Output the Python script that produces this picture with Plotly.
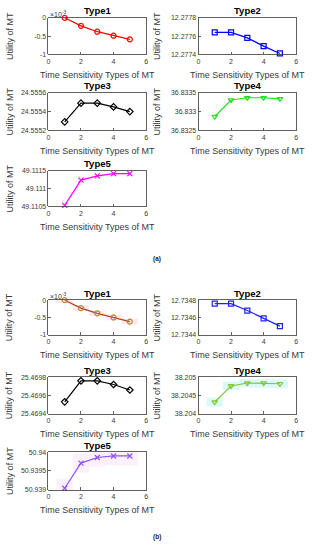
import plotly.graph_objects as go

W, H = 312, 550

# ---------------- data ----------------
x_types = [1, 2, 3, 4, 5]
x_ticks = [0, 2, 4, 6]

# panel (a)
a_type1 = [0.0, -0.22, -0.38, -0.49, -0.59]          # x 10^-3
a_type2 = [12.27764, 12.27764, 12.27758, 12.27749, 12.27741]
a_type3 = [24.55529, 24.55549, 24.55549, 24.55545, 24.55540]
a_type4 = [36.83287, 36.83331, 36.83337, 36.83337, 36.83334]
a_type5 = [49.11053, 49.11124, 49.11136, 49.11142, 49.11142]

# panel (b)
b_type1 = [0.0, -0.23, -0.38, -0.50, -0.62]          # x 10^-3
b_type2 = [12.73476, 12.73476, 12.73468, 12.73459, 12.73450]
b_type3 = [25.46953, 25.46976, 25.46976, 25.46972, 25.46966]
b_type4 = [38.20432, 38.20476, 38.20484, 38.20484, 38.20482]
b_type5 = [50.93904, 50.93971, 50.93986, 50.93990, 50.93990]

# shaded band half-widths (panel b)
b_band1 = 0.08
b_band4 = 0.00012
b_band5 = 0.00025

# y ticks
a_yt1 = [-1, -0.5, 0];                  a_yl1 = ["-1", "-0.5", "0"]
a_yt2 = [12.2774, 12.2776, 12.2778];    a_yl2 = ["12.2774", "12.2776", "12.2778"]
a_yt3 = [24.5552, 24.5554, 24.5556];    a_yl3 = ["24.5552", "24.5554", "24.5556"]
a_yt4 = [36.8325, 36.833, 36.8335];     a_yl4 = ["36.8325", "36.833", "36.8335"]
a_yt5 = [49.1105, 49.111, 49.1115];     a_yl5 = ["49.1105", "49.111", "49.1115"]
b_yt1 = [-1, -0.5, 0];                  b_yl1 = ["-1", "-0.5", "0"]
b_yt2 = [12.7344, 12.7346, 12.7348];    b_yl2 = ["12.7344", "12.7346", "12.7348"]
b_yt3 = [25.4694, 25.4696, 25.4698];    b_yl3 = ["25.4694", "25.4696", "25.4698"]
b_yt4 = [38.204, 38.2045, 38.205];      b_yl4 = ["38.204", "38.2045", "38.205"]
b_yt5 = [50.939, 50.9395, 50.94];       b_yl5 = ["50.939", "50.9395", "50.94"]

titles = ["Type1", "Type2", "Type3", "Type4", "Type5"]
x_title = "Time Sensitivity Types of MT"
y_title = "Utility of MT"

# ---------------- layout geometry (pixels) ----------------
cols = [(47, 146), (199, 298)]
rows_a = [(14, 51), (90, 128), (169, 205)]
rows_b = [(300, 335), (378, 415), (454, 492)]
pos = [(0, 0), (1, 0), (0, 1), (1, 1), (0, 2)]

FONT = "Liberation Sans, Arial, sans-serif"
AXC = "#3a3a3a"

def px_x(p):
    return p / W

def px_y(p):
    return 1 - p / H

fig = go.Figure()
annotations = []

panels = [
    dict(rows=rows_a,
         series=[a_type1, a_type2, a_type3, a_type4, a_type5],
         yt=[a_yt1, a_yt2, a_yt3, a_yt4, a_yt5],
         yl=[a_yl1, a_yl2, a_yl3, a_yl4, a_yl5],
         line=["#FF0000", "#0000FF", "#000000", "#22DD22", "#FF00FF"],
         mk=["#FF0000", "#0000FF", "#000000", "#22DD22", "#FF00FF"],
         bands=[None, None, None, None, None],
         label="(a)", label_y=258),
    dict(rows=rows_b,
         series=[b_type1, b_type2, b_type3, b_type4, b_type5],
         yt=[b_yt1, b_yt2, b_yt3, b_yt4, b_yt5],
         yl=[b_yl1, b_yl2, b_yl3, b_yl4, b_yl5],
         line=["#B8401A", "#2222EE", "#000000", "#86C53A", "#8A55F0"],
         mk=["#B8862B", "#2222EE", "#000000", "#86C53A", "#8A55F0"],
         bands=[(b_band1, "rgba(250,215,238,0.55)"), None, None,
                (b_band4, "rgba(195,247,242,0.6)"),
                (b_band5, "rgba(250,222,250,0.45)")],
         label="(b)", label_y=540),
]

symbols = ["circle-open", "square-open", "diamond-open", "triangle-down-open", "x-thin-open"]

k = 0
for panel in panels:
    for i in range(5):
        k += 1
        ci, ri = pos[i]
        x0, x1 = cols[ci]
        top, bot = panel["rows"][ri]
        xa = "x" if k == 1 else f"x{k}"
        ya = "y" if k == 1 else f"y{k}"
        yt = panel["yt"][i]
        vals = panel["series"][i]

        band = panel["bands"][i]
        if band is not None:
            w, col = band
            bx, by_up, by_lo = [], [], []
            for xv, v in zip(x_types, vals):
                bx += [xv - 0.5, xv + 0.5]
                by_up += [v + w, v + w]
                by_lo += [v - w, v - w]
            fig.add_trace(go.Scatter(
                x=bx + bx[::-1], y=by_up + by_lo[::-1], xaxis=xa, yaxis=ya,
                fill="toself", fillcolor=col, line=dict(width=0),
                mode="lines", hoverinfo="skip", showlegend=False))

        fig.add_trace(go.Scatter(
            x=x_types, y=vals, xaxis=xa, yaxis=ya, mode="lines+markers",
            line=dict(color=panel["line"][i], width=1.2),
            marker=dict(symbol=symbols[i], size=5, color=panel["mk"][i],
                        line=dict(color=panel["mk"][i], width=1.2)),
            cliponaxis=False, showlegend=False))

        common = dict(showline=True, mirror=True, linecolor=AXC, linewidth=0.8,
                      ticks="inside", ticklen=2.5, tickwidth=0.8, tickcolor=AXC,
                      showgrid=False, zeroline=False,
                      tickfont=dict(family=FONT, size=7, color=AXC))
        fig.update_layout({
            ("xaxis" if k == 1 else f"xaxis{k}"): dict(
                domain=[px_x(x0), px_x(x1)], anchor=ya, range=[0, 6],
                tickvals=x_ticks, ticktext=[str(t) for t in x_ticks], **common),
            ("yaxis" if k == 1 else f"yaxis{k}"): dict(
                domain=[px_y(bot), px_y(top)], anchor=xa,
                range=[yt[0], yt[-1]], tickvals=yt, ticktext=panel["yl"][i],
                **common),
        })

        cx = (x0 + x1) / 2
        annotations.append(dict(
            x=px_x(cx), y=px_y(top) + 7 / H, xref="paper", yref="paper",
            text=f"<b>{titles[i]}</b>", showarrow=False, yanchor="middle",
            xanchor="center", font=dict(family=FONT, size=9.5, color="#000")))
        annotations.append(dict(
            x=px_x(cx), y=px_y(bot) - 21 / H, xref="paper", yref="paper",
            text=x_title, showarrow=False, yanchor="middle", xanchor="center",
            font=dict(family=FONT, size=9, color=AXC)))
        annotations.append(dict(
            x=px_x(x0 - 39 if ci == 0 else x0 - 42), y=px_y((top + bot) / 2),
            xref="paper", yref="paper", text=y_title, textangle=-90,
            showarrow=False, yanchor="middle", xanchor="center",
            font=dict(family=FONT, size=9, color=AXC)))
        if i == 0:
            annotations.append(dict(
                x=px_x(x0), y=px_y(top) + 4 / H, xref="paper", yref="paper",
                text="×10<sup>-3</sup>", showarrow=False, yanchor="middle",
                xanchor="left", font=dict(family=FONT, size=7, color=AXC)))

    annotations.append(dict(
        x=px_x(157), y=px_y(panel["label_y"]), xref="paper", yref="paper",
        text=f"<b>{panel['label']}</b>", showarrow=False, yanchor="middle",
        xanchor="center", font=dict(family=FONT, size=6.5, color="#222")))

fig.update_layout(width=W, height=H, autosize=False,
                  margin=dict(l=0, r=0, t=0, b=0),
                  paper_bgcolor="white", plot_bgcolor="white",
                  showlegend=False, annotations=annotations)

fig.write_html(
    "out.html",
    config={"displayModeBar": False, "staticPlot": True},
    post_script="document.body.style.margin='0';document.body.style.padding='0';"
                "document.body.style.overflow='hidden';")
